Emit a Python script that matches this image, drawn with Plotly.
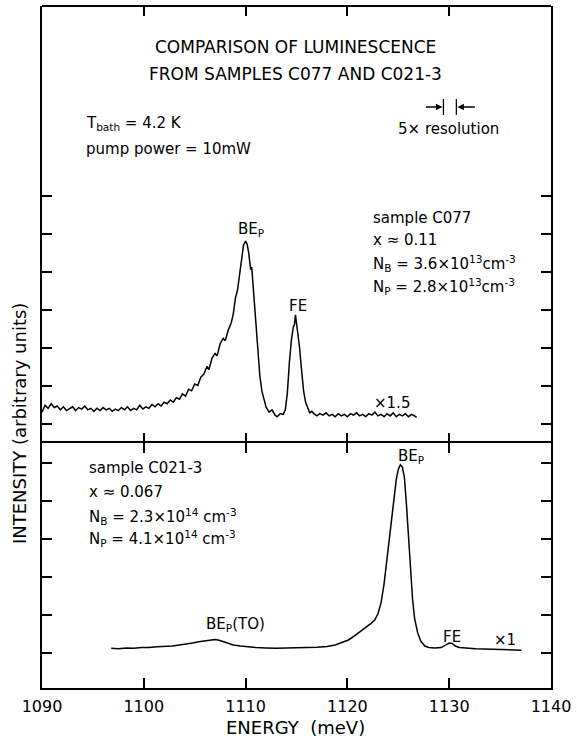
import plotly.graph_objects as go

# ---------------- data ----------------
# sample C077 (top panel, x1.5), energy in meV, intensity in tick units
e_c077 = [1090.0, 1090.3, 1090.6, 1090.9, 1091.2, 1091.5, 1091.8, 1092.1, 1092.4, 1092.7,
          1093.0, 1093.3, 1093.6, 1093.9, 1094.2, 1094.5, 1094.8, 1095.1, 1095.4, 1095.7,
          1096.0, 1096.3, 1096.6, 1096.9, 1097.2, 1097.5, 1097.8, 1098.1, 1098.4, 1098.7,
          1099.0, 1099.3, 1099.6, 1099.9, 1100.2, 1100.5, 1100.8, 1101.1, 1101.4, 1101.7,
          1102.0, 1102.3, 1102.6, 1102.9, 1103.2, 1103.5, 1103.8, 1104.1, 1104.4, 1104.7,
          1105.0, 1105.3, 1105.6, 1105.9, 1106.2, 1106.4, 1106.7, 1107.0, 1107.2, 1107.5,
          1107.8, 1108.0, 1108.3, 1108.6, 1108.8, 1109.0, 1109.2, 1109.4, 1109.6, 1109.8,
          1110.0, 1110.15, 1110.3, 1110.4, 1110.5, 1110.6, 1110.8, 1111.0, 1111.2, 1111.4,
          1111.6, 1111.8, 1112.0, 1112.3, 1112.6, 1112.9, 1113.1, 1113.4, 1113.7, 1113.9,
          1114.1, 1114.3, 1114.5, 1114.7, 1114.8, 1114.9, 1115.0, 1115.1, 1115.3, 1115.5,
          1115.7, 1115.9, 1116.1, 1116.3, 1116.5, 1116.7, 1117.0, 1117.3, 1117.6, 1117.9,
          1118.2, 1118.5, 1118.8, 1119.1, 1119.4, 1119.7, 1120.0, 1120.3, 1120.6, 1120.9,
          1121.2, 1121.5, 1121.8, 1122.1, 1122.4, 1122.7, 1123.0, 1123.3, 1123.6, 1123.9,
          1124.2, 1124.5, 1124.8, 1125.1, 1125.4, 1125.7, 1126.0, 1126.3, 1126.6, 1126.8]
i_c077 = [0.30, 0.48, 0.40, 0.52, 0.42, 0.46, 0.36, 0.44, 0.34, 0.40,
          0.44, 0.34, 0.42, 0.38, 0.46, 0.36, 0.40, 0.32, 0.40, 0.34,
          0.42, 0.36, 0.40, 0.32, 0.38, 0.34, 0.42, 0.36, 0.44, 0.34,
          0.40, 0.36, 0.48, 0.38, 0.44, 0.40, 0.50, 0.44, 0.52, 0.46,
          0.56, 0.52, 0.62, 0.56, 0.68, 0.64, 0.78, 0.72, 0.90, 0.86,
          1.04, 1.00, 1.22, 1.30, 1.50, 1.42, 1.72, 1.84, 1.78, 2.10,
          2.24, 2.18, 2.46, 2.66, 2.90, 3.30, 3.50, 3.90, 4.30, 4.70,
          4.80, 4.72, 4.50, 4.30, 4.05, 4.12, 3.40, 2.50, 1.85, 1.25,
          0.85, 0.60, 0.44, 0.30, 0.36, 0.22, 0.18, 0.26, 0.24, 0.36,
          0.80, 1.60, 2.20, 2.56, 2.60, 2.86, 2.62, 2.55, 2.00, 1.40,
          0.85, 0.55, 0.40, 0.28, 0.32, 0.26, 0.20, 0.26, 0.22, 0.28,
          0.20, 0.24, 0.18, 0.26, 0.20, 0.24, 0.18, 0.26, 0.22, 0.28,
          0.20, 0.24, 0.18, 0.26, 0.22, 0.30, 0.20, 0.24, 0.18, 0.26,
          0.20, 0.28, 0.18, 0.24, 0.20, 0.26, 0.18, 0.24, 0.20, 0.16]

# sample C021-3 (bottom panel, x1)
e_c021 = [1096.8, 1097.5, 1098.3, 1099.0, 1099.8, 1100.5, 1101.3, 1102.0, 1102.8, 1103.5,
          1104.2, 1104.8, 1105.4, 1106.0, 1106.5, 1107.0, 1107.4, 1107.8, 1108.3, 1108.8,
          1109.5, 1110.3, 1111.0, 1112.0, 1113.0, 1114.0, 1115.0, 1116.0, 1117.0, 1118.0,
          1118.8, 1119.5, 1120.1, 1120.7, 1121.3, 1121.8, 1122.3, 1122.7, 1123.0, 1123.3,
          1123.6, 1123.9, 1124.2, 1124.5, 1124.8, 1125.0, 1125.2, 1125.4, 1125.6, 1125.8,
          1126.0, 1126.2, 1126.4, 1126.6, 1126.9, 1127.2, 1127.6, 1128.0, 1128.6, 1129.2,
          1129.6, 1130.0, 1130.3, 1130.6, 1131.0, 1131.8, 1132.6, 1133.4, 1134.2, 1135.0,
          1135.8, 1136.5, 1137.1]
i_c021 = [0.11, 0.10, 0.12, 0.11, 0.13, 0.13, 0.15, 0.16, 0.17, 0.20,
          0.22, 0.25, 0.28, 0.31, 0.33, 0.34, 0.32, 0.28, 0.24, 0.20,
          0.17, 0.14, 0.13, 0.12, 0.11, 0.12, 0.12, 0.13, 0.14, 0.16,
          0.20, 0.26, 0.33, 0.44, 0.55, 0.66, 0.76, 0.86, 1.02, 1.30,
          1.80, 2.50, 3.30, 4.00, 4.55, 4.82, 4.94, 4.88, 4.60, 3.90,
          2.95, 2.10, 1.40, 0.90, 0.52, 0.30, 0.17, 0.13, 0.12, 0.13,
          0.18, 0.25, 0.24, 0.17, 0.13, 0.11, 0.10, 0.09, 0.08, 0.08,
          0.07, 0.06, 0.06]

x_ticks = [1090, 1100, 1110, 1120, 1130, 1140]
x_tick_labels = ["1090", "1100", "1110", "1120", "1130", "1140"]
top_y_ticks = [0, 1, 2, 3, 4, 5, 6]
bottom_y_ticks = [0, 1, 2, 3, 4, 5]

# ---------------- layout helpers ----------------
W, H = 577, 738
L, R, T, B = 42, 24, 6, 50
PW, PH = W - L - R, H - T - B
SPLIT = (688 - 443) / PH


def px(x, y):
    return (x - L) / PW, (H - B - y) / PH


FONT = "DejaVu Sans"
fig = go.Figure()
fig.add_trace(go.Scatter(x=e_c077, y=i_c077, mode="lines", xaxis="x2", yaxis="y2",
                         line=dict(color="black", width=1.5), showlegend=False))
fig.add_trace(go.Scatter(x=e_c021, y=i_c021, mode="lines", xaxis="x", yaxis="y",
                         line=dict(color="black", width=1.5), showlegend=False))

axis_common = dict(linecolor="black", linewidth=2, mirror="ticks",
                   ticks="inside", ticklen=10, tickwidth=1.5, tickcolor="black",
                   showgrid=False, zeroline=False)

fig.update_layout(
    width=W, height=H, margin=dict(l=L, r=R, t=T, b=B),
    paper_bgcolor="white", plot_bgcolor="white",
    font=dict(family=FONT, color="black", size=15),
    xaxis=dict(domain=[0, 1], anchor="y", range=[1090, 1140], tickvals=x_ticks,
               ticktext=x_tick_labels, tickfont=dict(size=16), ticklabelstandoff=3,
               showline=True, **axis_common),
    xaxis2=dict(domain=[0, 1], anchor="y2", range=[1090, 1140], tickvals=x_ticks,
                showticklabels=False, matches="x", showline=False, **axis_common),
    yaxis=dict(domain=[0, SPLIT], anchor="x", range=[-35.5 / 38, 209.5 / 38],
               tickvals=bottom_y_ticks, showticklabels=False, showline=True, **axis_common),
    yaxis2=dict(domain=[SPLIT, 1], anchor="x2", range=[-19.5 / 38, 417.5 / 38],
                tickvals=top_y_ticks, showticklabels=False, showline=True, **axis_common),
)

ann = []


def text(x, y, s, size=15, xanchor="center", angle=0):
    xp, yp = px(x, y)
    ann.append(dict(x=xp, y=yp, xref="paper", yref="paper", text=s, showarrow=False,
                    xanchor=xanchor, yanchor="middle", textangle=angle,
                    font=dict(family=FONT, size=size, color="black")))


text(296, 47, "COMPARISON OF LUMINESCENCE", 17)
text(296, 74, "FROM SAMPLES C077 AND C021-3", 17)
text(84, 124, "T<sub>bath</sub> = 4.2 K", 15, "left")
text(84, 149, "pump power = 10mW", 15, "left")
text(450, 129, "5× resolution", 15)

text(372, 218, "sample C077", 15, "left")
text(372, 240, "x ≈ 0.11", 15, "left")
text(372, 263, "N<sub>B</sub> = 3.6×10<sup>13</sup>cm<sup>-3</sup>", 15, "left")
text(372, 286, "N<sub>P</sub> = 2.8×10<sup>13</sup>cm<sup>-3</sup>", 15, "left")
text(252, 229, "BE<sub>P</sub>", 15)
text(299, 306, "FE", 15)
text(393, 403, "×1.5", 15)

text(87, 468, "sample C021-3", 15, "left")
text(87, 492, "x ≈ 0.067", 15, "left")
text(87, 516, "N<sub>B</sub> = 2.3×10<sup>14</sup> cm<sup>-3</sup>", 15, "left")
text(87, 538, "N<sub>P</sub> = 4.1×10<sup>14</sup> cm<sup>-3</sup>", 15, "left")
text(412, 456, "BE<sub>P</sub>", 15)
text(236, 624, "BE<sub>P</sub>(TO)", 15)
text(454, 637, "FE", 15)
text(507, 640, "×1", 15)

text(296, 727, "ENERGY  (meV)", 18)
text(19, 424, "INTENSITY (arbitrary units)", 18, "center", -90)

# resolution arrows
for (xh, dx) in [(444, -18), (459, 19)]:
    xp, yp = px(xh, 107)
    ann.append(dict(x=xp, y=yp, xref="paper", yref="paper", ax=dx, ay=0,
                    axref="pixel", ayref="pixel", text="", showarrow=True,
                    arrowhead=2, arrowsize=1, arrowwidth=1.3, arrowcolor="black"))
fig.update_layout(annotations=ann)

shapes = [dict(type="line", xref="paper", yref="paper", x0=0, y0=1, x1=1, y1=1,
               line=dict(color="black", width=2))]
for xb in [445, 458]:
    x0, y0 = px(xb, 99)
    x1, y1 = px(xb, 115)
    shapes.append(dict(type="line", xref="paper", yref="paper", x0=x0, y0=y0, x1=x1, y1=y1,
                       line=dict(color="black", width=1.3)))
fig.update_layout(shapes=shapes)

fig.write_html("out.html")
